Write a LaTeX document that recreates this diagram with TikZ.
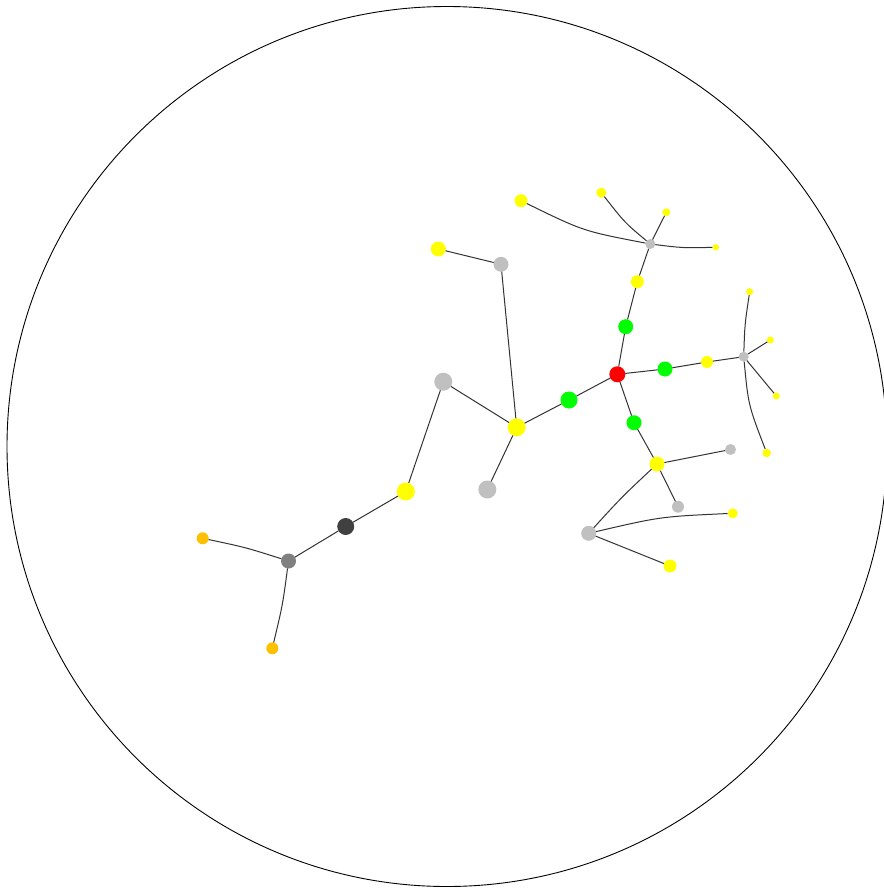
\documentclass[tikz,border=0pt]{standalone}
\definecolor{ylw}{HTML}{FFFF00}
\definecolor{grn}{HTML}{00FF00}
\definecolor{rd}{HTML}{FF0000}
\definecolor{lgr}{HTML}{C0C0C0}
\definecolor{mgr}{HTML}{808080}
\definecolor{dgr}{HTML}{404040}
\definecolor{org}{HTML}{FFC000}
\tikzset{
  dot/.style={circle, inner sep=0pt, outer sep=0pt, draw=none},
  ln/.style={draw=black!80, line width=1pt},
}
\begin{document}
\begin{tikzpicture}[x=1pt, y=-1pt]
\useasboundingbox (0,0) rectangle (883,891);
\draw[black, line width=0.9pt] (447,446.5) circle [radius=440pt];

% nodes
\node[dot, fill=rd,  minimum size=16pt] (r)  at (617.3,374.3) {};
\node[dot, fill=grn, minimum size=15pt] (g1) at (625.7,326.7) {};
\node[dot, fill=ylw, minimum size=13pt] (y1) at (637.3,281.7) {};
\node[dot, fill=lgr, minimum size=10pt] (h1) at (650.3,244) {};
\node[dot, fill=ylw, minimum size=13pt] (a1) at (521,200.7) {};
\node[dot, fill=ylw, minimum size=10pt] (a2) at (601.3,192.7) {};
\node[dot, fill=ylw, minimum size=8pt]  (a3) at (666.3,212.3) {};
\node[dot, fill=ylw, minimum size=6.5pt] (a4) at (715.7,247.3) {};

\node[dot, fill=grn, minimum size=15pt] (g2) at (665,369) {};
\node[dot, fill=ylw, minimum size=12pt] (y2) at (707,362) {};
\node[dot, fill=lgr, minimum size=10pt] (h2) at (743.7,356.7) {};
\node[dot, fill=ylw, minimum size=7pt]  (b1) at (749.7,291.7) {};
\node[dot, fill=ylw, minimum size=7pt]  (b2) at (770.3,340) {};
\node[dot, fill=ylw, minimum size=7pt]  (b3) at (776.3,396) {};
\node[dot, fill=ylw, minimum size=8.5pt] (b4) at (766.7,453) {};

\node[dot, fill=grn, minimum size=15pt] (g3) at (634,422.7) {};
\node[dot, fill=ylw, minimum size=15pt] (y3) at (657,464) {};
\node[dot, fill=lgr, minimum size=11pt] (c1) at (730.5,449.5) {};
\node[dot, fill=lgr, minimum size=12pt] (c2) at (678,506.7) {};
\node[dot, fill=lgr, minimum size=15pt] (h3) at (588.7,533.3) {};
\node[dot, fill=ylw, minimum size=10pt] (c3) at (732.7,513.3) {};
\node[dot, fill=ylw, minimum size=13pt] (c4) at (670,566) {};

\node[dot, fill=grn, minimum size=17pt] (g4) at (569,400) {};
\node[dot, fill=ylw, minimum size=18pt] (y4) at (516.7,427.3) {};
\node[dot, fill=lgr, minimum size=15pt] (d1) at (501,264.3) {};
\node[dot, fill=ylw, minimum size=15pt] (d2) at (438.3,249) {};
\node[dot, fill=lgr, minimum size=18pt] (d3) at (487.3,489.5) {};
\node[dot, fill=lgr, minimum size=18pt] (e1) at (443.3,381.7) {};
\node[dot, fill=ylw, minimum size=18pt] (e2) at (405.8,491.5) {};
\node[dot, fill=dgr, minimum size=17pt] (e3) at (345.7,526.5) {};
\node[dot, fill=mgr, minimum size=15pt] (e4) at (288.5,561) {};
\node[dot, fill=org, minimum size=12pt] (f1) at (202.7,538.3) {};
\node[dot, fill=org, minimum size=12pt] (f2) at (272.3,648.3) {};

% edges
\draw[ln] (r) -- (g1);
\draw[ln] (g1) -- (y1);
\draw[ln] (y1) -- (h1);
\draw[ln] (h1) .. controls (583.4,231.2) .. (a1);
\draw[ln] (h1) .. controls (624.7,222.6) .. (a2);
\draw[ln] (h1) -- (a3);
\draw[ln] (h1) .. controls (683,248) .. (a4);

\draw[ln] (r) -- (g2);
\draw[ln] (g2) -- (y2);
\draw[ln] (y2) -- (h2);
\draw[ln] (h2) .. controls (744.8,324.2) .. (b1);
\draw[ln] (h2) -- (b2);
\draw[ln] (h2) -- (b3);
\draw[ln] (h2) .. controls (748.3,405) .. (b4);

\draw[ln] (r) -- (g3);
\draw[ln] (g3) -- (y3);
\draw[ln] (y3) -- (c1);
\draw[ln] (y3) -- (c2);
\draw[ln] (y3) .. controls (621.5,497.3) .. (h3);
\draw[ln] (h3) .. controls (660.7,516.6) .. (c3);
\draw[ln] (h3) -- (c4);

\draw[ln] (r) -- (g4);
\draw[ln] (g4) -- (y4);
\draw[ln] (y4) -- (d1);
\draw[ln] (d1) -- (d2);
\draw[ln] (y4) -- (d3);
\draw[ln] (y4) -- (e1);
\draw[ln] (e1) -- (e2);
\draw[ln] (e2) -- (e3);
\draw[ln] (e3) -- (e4);
\draw[ln] (e4) .. controls (245.6,547.4) .. (f1);
\draw[ln] (e4) .. controls (282.7,604.7) .. (f2);
\end{tikzpicture}
\end{document}
